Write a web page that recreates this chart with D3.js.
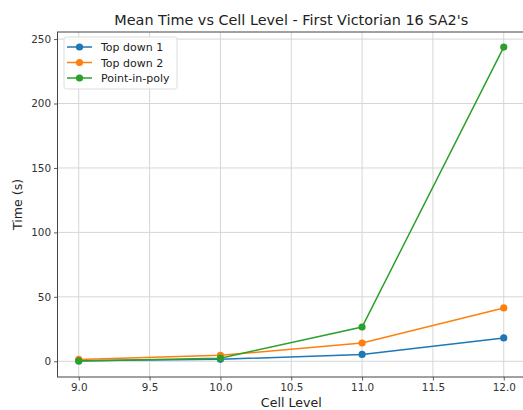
<!DOCTYPE html>
<html>
<head>
<meta charset="utf-8">
<script src="https://cdn.jsdelivr.net/npm/d3@7"></script>
<style>
  body { margin: 0; background: #fff; }
  svg { display: block; font-family: "DejaVu Sans", sans-serif; }
</style>
</head>
<body>
<div id="chart"></div>
<script>
// data
const cellLevels = [9.0, 10.0, 11.0, 12.0];
const topDown1 = [0.4, 1.5, 5.3, 18.1];
const topDown2 = [1.4, 4.6, 14.2, 41.4];
const pointInPoly = [0.3, 2.4, 26.6, 243.8];
const seriesNames = ["Top down 1", "Top down 2", "Point-in-poly"];
const seriesColors = ["#1f77b4", "#ff7f0e", "#2ca02c"];
const xTicks = [9.0, 9.5, 10.0, 10.5, 11.0, 11.5, 12.0];
const yTicks = [0, 50, 100, 150, 200, 250];

const width = 523, height = 410;
const plot = { left: 57.5, right: 525, top: 32, bottom: 377 };

const svg = d3.select("#chart").append("svg").attr("width", width).attr("height", height);

// matplotlib style 5% margins
const x = d3.scaleLinear().domain([8.85, 12.15]).range([plot.left, plot.right]);
const y = d3.scaleLinear().domain([-12.2, 255.5]).range([plot.bottom, plot.top]);

const series = [topDown1, topDown2, pointInPoly].map((vals, i) => ({
    name: seriesNames[i],
    color: seriesColors[i],
    points: vals.map((v, j) => ({ x: cellLevels[j], y: v }))
}));

// grid
const grid = svg.append("g");
grid.selectAll("line.gx").data(xTicks).enter().append("line")
    .attr("x1", d => x(d)).attr("x2", d => x(d))
    .attr("y1", plot.top).attr("y2", plot.bottom)
    .attr("stroke", "#d6d6d6").attr("stroke-width", 1);
grid.selectAll("line.gy").data(yTicks).enter().append("line")
    .attr("y1", d => y(d)).attr("y2", d => y(d))
    .attr("x1", plot.left).attr("x2", plot.right)
    .attr("stroke", "#d6d6d6").attr("stroke-width", 1);

// axes
const xAxis = svg.append("g").attr("transform", `translate(0,${plot.bottom})`)
    .call(d3.axisBottom(x).tickValues(xTicks).tickFormat(d3.format(".1f")).tickSize(3.5).tickPadding(3));
const yAxis = svg.append("g").attr("transform", `translate(${plot.left},0)`)
    .call(d3.axisLeft(y).tickValues(yTicks).tickSize(3.5).tickPadding(3));
[xAxis, yAxis].forEach(a => {
    a.select(".domain").remove();
    a.selectAll("line").attr("stroke", "#333").attr("stroke-width", 0.8);
    a.selectAll("text").attr("fill", "#333").style("font-size", "10.4px").style("font-family", "DejaVu Sans");
});

// frame
svg.append("rect")
    .attr("x", plot.left).attr("y", plot.top)
    .attr("width", plot.right - plot.left).attr("height", plot.bottom - plot.top)
    .attr("fill", "none").attr("stroke", "#444").attr("stroke-width", 1);

// lines + markers
const line = d3.line().x(d => x(d.x)).y(d => y(d.y));
series.forEach(s => {
    svg.append("path").datum(s.points)
        .attr("d", line).attr("fill", "none")
        .attr("stroke", s.color).attr("stroke-width", 1.5);
    svg.selectAll(null).data(s.points).enter().append("circle")
        .attr("cx", d => x(d.x)).attr("cy", d => y(d.y))
        .attr("r", 3.6).attr("fill", s.color);
});

// title and labels
svg.append("text").attr("x", (plot.left + plot.right) / 2).attr("y", 25)
    .attr("text-anchor", "middle").style("font-size", "14.4px").attr("fill", "#222")
    .text("Mean Time vs Cell Level - First Victorian 16 SA2's");
svg.append("text").attr("x", (plot.left + plot.right) / 2).attr("y", 407)
    .attr("text-anchor", "middle").style("font-size", "12.6px").attr("fill", "#222")
    .text("Cell Level");
svg.append("text").attr("transform", `translate(22,${(plot.top + plot.bottom) / 2}) rotate(-90)`)
    .attr("text-anchor", "middle").style("font-size", "12.6px").attr("fill", "#222")
    .text("Time (s)");

// legend
const legend = svg.append("g").attr("transform", "translate(64,37)");
legend.append("rect").attr("width", 113).attr("height", 52).attr("rx", 2.5)
    .attr("fill", "#fff").attr("fill-opacity", 0.8).attr("stroke", "#ddd");
series.forEach((s, i) => {
    const g = legend.append("g").attr("transform", `translate(0,${10 + i * 15.5})`);
    g.append("line").attr("x1", 3).attr("x2", 28).attr("stroke", s.color).attr("stroke-width", 1.5);
    g.append("circle").attr("cx", 15.5).attr("r", 3.6).attr("fill", s.color);
    g.append("text").attr("x", 37).attr("y", 4).style("font-size", "11px").attr("fill", "#222").text(s.name);
});
</script>
</body>
</html>
